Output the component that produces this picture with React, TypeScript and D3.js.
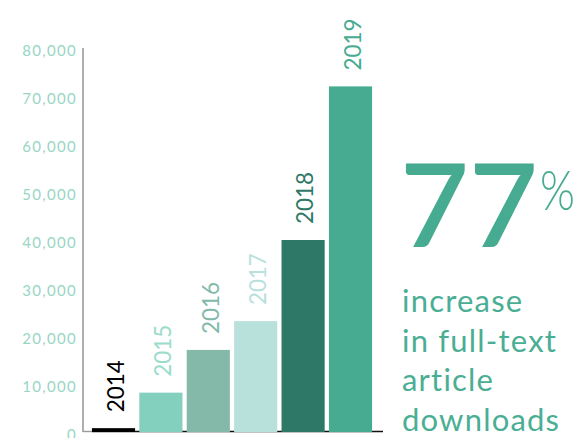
import React from "react";
import * as d3 from "d3";

const years = ["2014", "2015", "2016", "2017", "2018", "2019"];
const downloads = [800, 8200, 17100, 23100, 40000, 72000];
const barColors = ["#000000", "#84d0bf", "#84b9aa", "#b9e1dc", "#2e7868", "#46ab91"];
const labelColors = ["#000000", "#9bdccb", "#84b9aa", "#b9e1dc", "#2e7868", "#46ab91"];
const yTicks = [0, 10000, 20000, 30000, 40000, 50000, 60000, 70000, 80000];
const headline = "77";
const blurbLines = ["increase", "in full-text", "article", "downloads"];

const W = 575;
const H = 438;
const FONT = "Lato, 'Open Sans', sans-serif";

export default function App() {
  const x = d3
    .scaleBand<string>()
    .domain(years)
    .range([89.8, 374.2])
    .paddingInner(0.09)
    .paddingOuter(0.045);
  const y = d3.scaleLinear().domain([0, 80000]).range([432, 48]);
  const fmt = d3.format(",");

  return (
    <svg
      width={W}
      height={H}
      style={{ position: "absolute", left: 0, top: 0, background: "#fff" }}
    >
      {yTicks.map((t) => (
        <text
          key={t}
          x={77}
          y={y(t) + 3}
          dy="0.36em"
          textAnchor="end"
          fontFamily={FONT}
          fontSize={15}
          letterSpacing={1.3}
          fill="#97d6c5"
        >
          {fmt(t)}
        </text>
      ))}
      <line x1={83} x2={83} y1={48} y2={432} stroke="#9a9a9a" strokeWidth={1.6} />
      <line x1={83} x2={92} y1={431.5} y2={431.5} stroke="#9a9a9a" strokeWidth={1.4} />
      <line x1={92} x2={383} y1={431.5} y2={431.5} stroke="#111" strokeWidth={1.5} />
      {years.map((yr, i) => {
        const bx = x(yr)!;
        const by = y(downloads[i]);
        const cx = bx + x.bandwidth() / 2 + 2;
        const ly = by - 16;
        return (
          <g key={yr}>
            <rect
              x={bx}
              y={by}
              width={x.bandwidth()}
              height={y(0) - by}
              fill={barColors[i]}
            />
            <text
              transform={`translate(${cx},${ly}) rotate(-90)`}
              dy="0.36em"
              fontFamily={FONT}
              fontSize={23}
              textLength={52}
              lengthAdjust="spacingAndGlyphs"
              fill={labelColors[i]}
            >
              {yr}
            </text>
          </g>
        );
      })}
      <text
        x={400}
        y={247}
        fontFamily={FONT}
        fontSize={116}
        fontWeight={600}
        textLength={138}
        lengthAdjust="spacingAndGlyphs"
        fill="#46ab91"
      >
        {headline}
      </text>
      <text
        transform="translate(540,210) scale(0.8,1)"
        fontFamily={FONT}
        fontSize={56}
        fontWeight={300}
        fill="#46ab91"
      >
        %
      </text>
      {blurbLines.map((l, i) => (
        <text
          key={l}
          x={402}
          y={312 + i * 39.5}
          fontFamily={FONT}
          fontSize={31}
          fill="#4aae94"
          letterSpacing={1.2}
        >
          {l}
        </text>
      ))}
    </svg>
  );
}
